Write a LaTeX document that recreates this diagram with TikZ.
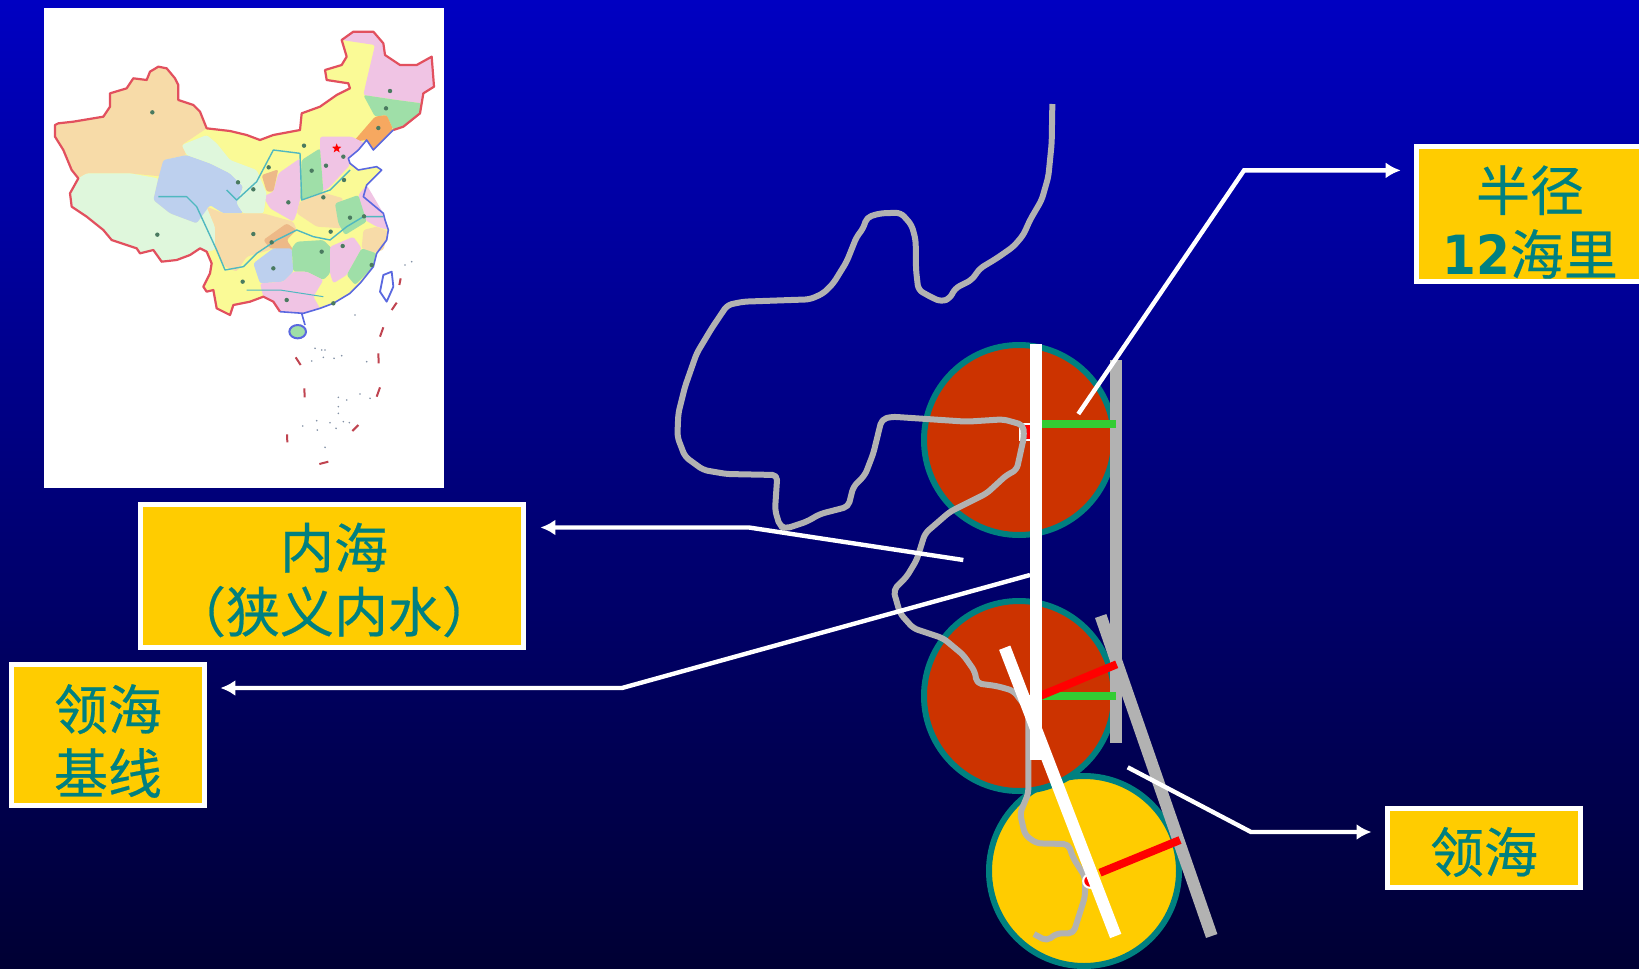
\documentclass[tikz,border=0pt]{standalone}
\usepackage{fontspec}
\setmainfont[FakeBold=0.4]{Noto Sans CJK SC}
\newfontfamily\digfont[FakeStretch=0.9]{DejaVu Sans}
\usetikzlibrary{arrows.meta,shapes.geometric}
\definecolor{bgtop}{HTML}{0000C2}
\definecolor{bgmid}{HTML}{00008E}
\definecolor{bgbot}{HTML}{000033}
\definecolor{boxyellow}{HTML}{FFCC00}
\definecolor{tealc}{HTML}{008080}
\definecolor{brick}{HTML}{CC3300}
\definecolor{coast}{HTML}{B2B2B2}
\definecolor{greenl}{HTML}{33CC33}
\definecolor{mTan}{HTML}{F7DBA8}
\definecolor{mPale}{HTML}{DFF7DC}
\definecolor{mBlue}{HTML}{BDD0EE}
\definecolor{mYel}{HTML}{FAFA96}
\definecolor{mPink}{HTML}{F0C4E4}
\definecolor{mGreen}{HTML}{9FDFA8}
\definecolor{mOrg}{HTML}{F6A860}
\definecolor{mBrn}{HTML}{EDB988}
\definecolor{mBorder}{HTML}{E2505E}
\definecolor{mCoast}{HTML}{5A68E0}
\definecolor{mRiver}{HTML}{50B8C0}
\definecolor{mDot}{HTML}{4A7A60}
\tikzset{
  labelbox/.style={fill=boxyellow,draw=white,line width=2.5pt,inner sep=0pt,outer sep=0pt},
  labeltext/.style={text=tealc,font=\fontsize{27}{32}\selectfont,align=center,inner sep=0pt},
  leader/.style={draw=white,line width=2.2pt,line join=miter},
  leadertip/.style={leader,-{Latex[length=7.5pt,width=8pt]}},
  bigcircle/.style={circle,draw=tealc,line width=3pt,minimum size=95pt,inner sep=0pt,outer sep=0pt},
  thickline/.style={line width=6pt},
  radiusline/.style={line width=4pt},
  coastline/.style={draw=coast,line width=3pt,line join=round,line cap=butt},
  prov/.style={rounded corners=1.2pt},
}
\begin{document}
\begin{tikzpicture}[x=0.5pt,y=-0.5pt]
\useasboundingbox (0,0) rectangle (1639,969);
\shade[top color=bgtop,middle color=bgmid,bottom color=bgbot] (0,0) rectangle (1639,969);

% ---------- map ----------
\fill[white] (44,8) rectangle (444,488);
\begin{scope}[shift={(15pt,0pt)},x=0.16667pt,y=-0.16667pt,line join=round]
% country base
\fill[mYel] (1090,390)--(1120,380)--(1145,360)--(1170,340)--(1180,280)--(1212,260)--(1205,170)--(1160,195)--(1110,195)--(1065,165)--(1060,130)--(1030,95)--(970,95)--(935,120)--(950,170)--(935,195)--(885,210)--(890,240)--(955,250)--(960,265)--(920,285)--(870,320)--(815,340)--(810,390)--(730,405)--(690,420)--(650,405)--(600,393)--(530,385)--(510,335)--(490,315)--(445,300)--(445,255)--(435,235)--(410,205)--(385,200)--(360,215)--(350,240)--(310,235)--(290,265)--(240,280)--(240,320)--(220,350)--(160,360)--(130,365)--(85,370)--(75,375)--(75,410)--(100,450)--(125,510)--(145,535)--(120,580)--(125,620)--(170,650)--(220,690)--(245,720)--(320,745)--(330,760)--(370,750)--(395,785)--(440,780)--(480,765)--(510,745)--(530,755)--(545,790)--(540,820)--(520,860)--(530,875)--(550,870)--(560,925)--(600,945)--(610,915)--(660,905)--(700,890)--(730,905)--(750,935)--(820,940)--(870,925)--(910,910)--(960,880)--(990,850)--(1030,800)--(1040,760)--(1070,720)--(1075,690)--(1065,660)--(1060,640)--(1000,590)--(1010,555)--(1055,510)--(1040,500)--(985,510)--(960,490)--(955,475)--(985,450)--(1010,420)--(1030,450)--cycle;
\fill[mTan,prov] (75,375)--(85,370)--(130,365)--(160,360)--(220,350)--(240,320)--(240,280)--(290,265)--(310,235)--(350,240)--(360,215)--(385,200)--(410,205)--(435,235)--(445,255)--(445,300)--(490,315)--(510,335)--(530,385)--(455,435)--(470,465)--(400,480)--(400,530)--(300,520)--(170,520)--(145,535)--(125,510)--(100,450)--(75,410)--cycle;
\fill[mPale,prov] (170,520)--(300,520)--(385,535)--(370,600)--(420,640)--(500,670)--(530,620)--(555,680)--(555,750)--(530,755)--(510,745)--(480,765)--(440,780)--(395,785)--(370,750)--(330,760)--(320,745)--(245,720)--(220,690)--(170,650)--(125,620)--(120,580)--(145,535)--cycle;
\fill[mBlue,prov] (400,480)--(470,465)--(540,490)--(600,520)--(640,560)--(620,610)--(640,640)--(580,640)--(540,615)--(500,670)--(420,640)--(370,600)--(385,535)--cycle;
\fill[mPale,prov] (455,435)--(530,405)--(560,430)--(600,480)--(680,510)--(710,580)--(700,640)--(640,640)--(620,610)--(640,560)--(600,520)--(540,490)--(470,465)--cycle;
\fill[mPink,prov] (935,120)--(970,95)--(1030,95)--(1060,130)--(1065,165)--(1110,195)--(1160,195)--(1205,170)--(1212,260)--(1180,280)--(1175,310)--(1100,300)--(1000,285)--(1010,240)--(1035,135)--cycle;
\fill[mGreen,prov] (1000,285)--(1100,300)--(1175,310)--(1170,340)--(1145,360)--(1120,380)--(1090,390)--(1070,345)--(1035,350)--cycle;
\fill[mOrg,prov] (1035,350)--(1070,345)--(1090,390)--(1030,450)--(1010,420)--(970,425)--cycle;
\fill[mPink,prov] (870,410)--(965,410)--(1005,430)--(955,475)--(960,495)--(900,560)--(880,575)--(870,450)--cycle;
\fill[mGreen,prov] (815,480)--(870,445)--(880,575)--(810,600)--cycle;
\fill[mPink,prov] (745,520)--(810,475)--(810,600)--(800,640)--(790,665)--(720,625)--(700,590)--(730,575)--cycle;
\fill[mBrn,prov] (695,525)--(745,508)--(730,575)--(710,575)--cycle;
\fill[mPale,prov] (640,560)--(710,580)--(700,640)--(640,640)--(620,610)--cycle;
\fill[mTan,prov] (800,640)--(810,605)--(880,578)--(940,595)--(920,640)--(935,685)--(860,680)--cycle;
\fill[mPink,prov] (985,585)--(1010,555)--(1060,640)--(1065,660)--(1075,690)--(1040,680)--(1005,660)--cycle;
\fill[mGreen,prov] (915,610)--(985,585)--(1010,665)--(945,705)--(925,670)--cycle;
\fill[mTan,prov] (1000,690)--(1040,680)--(1075,695)--(1060,750)--(1020,760)--(995,745)--cycle;
\fill[mTan,prov] (530,620)--(580,640)--(700,640)--(790,665)--(800,690)--(750,720)--(720,750)--(650,770)--(620,815)--(585,800)--(555,750)--(555,680)--cycle;
\fill[mBrn,prov] (700,720)--(770,670)--(800,690)--(770,720)--(790,750)--(720,745)--cycle;
\fill[mBlue,prov] (670,790)--(730,745)--(785,745)--(790,815)--(760,845)--(690,850)--cycle;
\fill[mGreen,prov] (785,745)--(800,725)--(880,720)--(905,745)--(900,820)--(880,840)--(830,815)--(790,815)--cycle;
\fill[mPink,prov] (900,740)--(970,710)--(995,745)--(950,825)--(910,850)--(900,820)--cycle;
\fill[mGreen,prov] (995,745)--(1040,760)--(1030,800)--(975,855)--(950,825)--cycle;
\fill[mPink,prov] (690,850)--(760,845)--(790,815)--(830,815)--(880,840)--(850,890)--(870,925)--(820,940)--(750,935)--(730,905)--(700,890)--cycle;
% rivers
\draw[mRiver,line width=0.7pt] (590,570)--(620,600)--(680,545)--(730,450)--(810,460)--(815,600)--(900,570)--(960,510);
\draw[mRiver,line width=0.7pt] (385,590)--(470,590)--(500,620)--(560,750)--(585,810)--(640,800)--(680,760)--(740,720)--(800,690)--(850,710)--(900,720)--(950,680)--(1000,650)--(1060,650);
\draw[mRiver,line width=0.5pt] (650,870)--(750,870)--(880,890);
% borders
\draw[mBorder,line width=1.1pt] (1090,390)--(1120,380)--(1145,360)--(1170,340)--(1180,280)--(1212,260)--(1205,170)--(1160,195)--(1110,195)--(1065,165)--(1060,130)--(1030,95)--(970,95)--(935,120)--(950,170)--(935,195)--(885,210)--(890,240)--(955,250)--(960,265)--(920,285)--(870,320)--(815,340)--(810,390)--(730,405)--(690,420)--(650,405)--(600,393)--(530,385)--(510,335)--(490,315)--(445,300)--(445,255)--(435,235)--(410,205)--(385,200)--(360,215)--(350,240)--(310,235)--(290,265)--(240,280)--(240,320)--(220,350)--(160,360)--(130,365)--(85,370)--(75,375)--(75,410)--(100,450)--(125,510)--(145,535)--(120,580)--(125,620)--(170,650)--(220,690)--(245,720)--(320,745)--(330,760)--(370,750)--(395,785)--(440,780)--(480,765)--(510,745)--(530,755)--(545,790)--(540,820)--(520,860)--(530,875)--(550,870)--(560,925)--(600,945)--(610,915)--(660,905)--(700,890)--(730,905)--(750,935);
\draw[mCoast,line width=0.8pt] (1090,390)--(1030,450)--(1010,420)--(985,450)--(955,475)--(960,490)--(985,510)--(1040,500)--(1055,510)--(1010,555)--(1000,590)--(1060,640)--(1065,660)--(1075,690)--(1070,720)--(1040,760)--(1030,800)--(990,850)--(960,880)--(910,910)--(870,925)--(820,940)--(750,935);
% Hainan, Taiwan
\draw[mCoast,fill=mGreen,line width=1pt] (803,995) ellipse [x radius=25,y radius=20];
\draw[mCoast,line width=0.8pt] (815,940)--(825,975);
\draw[mCoast,fill=white,line width=0.9pt] (1050,875)--(1060,825)--(1085,815)--(1090,860)--(1070,905)--cycle;
% capitals
\foreach \p in {(367,337),(382,704),(624,547),(670,568),(716,502),(822,437),(845,512),(888,497),(940,470),(942,540),(880,592),(775,607),(960,653),(1002,649),(902,695),(938,738),(875,755),(730,805),(638,845),(770,900),(725,727),(670,702),(1080,273),(1068,325),(1045,384),(1025,795),(910,910)}
  \fill[mDot] \p circle (1.1pt);
\node[star,star points=5,star point ratio=2.4,fill=red,inner sep=0pt,minimum size=5pt] (capital) at (920,445) {};
% island dashes
\foreach \a/\b in {{(1112,835)}/{(1108,855)},{(1100,908)}/{(1085,930)},{(1060,982)}/{(1050,1010)},{(1045,1060)}/{(1046,1090)},{(1050,1162)}/{(1040,1190)},{(985,1275)}/{(967,1293)},{(895,1385)}/{(868,1392)},{(771,1303)}/{(772,1327)},{(823,1165)}/{(824,1192)},{(797,1072)}/{(812,1095)}}
  \draw[mBorder!85!black,line width=1pt] \a -- \b;
\foreach \p in {(855,1045),(875,1050),(885,1050),(845,1083),(880,1072),(912,1075),(935,1067),(1010,1085),(925,1192),(950,1200),(990,1182),(1020,1195),(925,1220),(925,1240),(860,1262),(900,1268),(940,1265),(958,1268),(818,1278),(862,1290),(918,1285),(885,1342),(975,945),(1125,795),(1145,785)}
  \fill[mBlue!70!black] \p circle (0.45pt);
\end{scope}

% ---------- circles ----------
\node[bigcircle,fill=boxyellow] (c3) at (1084,871) {};
\node[bigcircle,fill=brick] (c1) at (1019,440) {};
\node[bigcircle,fill=brick] (c2) at (1019,696) {};

% ---------- outer limits ----------
\coordinate (limA) at (1116,360);
\coordinate (limB) at (1116,743);
\coordinate (limC) at (1100.7,616);
\coordinate (limD) at (1211.7,936);
\draw[coast,thickline] (limC) -- (limD);
\draw[coast,thickline] (limA) -- (limB);

% ---------- base points and radii ----------
\draw[draw=white,fill=red,line width=1pt] (1020,424) rectangle (1031,440);
\fill[white] (1022,695) rectangle (1032,708);
\coordinate (rA) at (1042,423.7);
\coordinate (rAe) at (1116,423.7);
\coordinate (rB) at (1042,696);
\coordinate (rBe) at (1116,696);
\coordinate (rC) at (1040,696);
\coordinate (rCe) at (1116.7,664.3);
\coordinate (rD) at (1100,872.7);
\coordinate (rDe) at (1180,840);
\draw[greenl,radiusline] (rB) -- (rBe);
\draw[red,radiusline] (rC) -- (rCe);
\draw[greenl,radiusline] (rA) -- (rAe);
\draw[red,radiusline] (rD) -- (rDe);

% ---------- coastline ----------
\begin{scope}[shift={(325pt,-45pt)},x=0.16667pt,y=-0.16667pt]
\draw[coastline,rounded corners=2.5pt] (1207,42)--(1205,160)--(1195,260)--(1175,330)--(1140,390)--(1120,435)--(1090,470)--(1040,505)--(990,535)--(965,570)--(915,595)--(900,625)--(875,635)--(850,625)--(805,600)--(798,540)--(797,450)--(785,405)--(752,368)--(690,370)--(650,382)--(640,415)--(620,440)--(590,515)--(550,580)--(520,610)--(480,628)--(280,635)--(232,645)--(185,715)--(140,790)--(105,890)--(85,970)--(82,1040)--(105,1100)--(160,1140)--(230,1152)--(382,1155)--(375,1260)--(390,1310)--(410,1315)--(470,1295)--(510,1272)--(595,1250)--(610,1190)--(645,1155)--(670,1090)--(695,988)--(725,980)--(950,995)--(1060,988)--(1120,1005)--(1122,1040)--(1100,1140)--(1070,1155)--(1010,1210)--(900,1265)--(825,1330)--(800,1410)--(770,1460)--(730,1500)--(750,1570)--(790,1615)--(880,1645)--(940,1695)--(975,1745)--(980,1780)--(1040,1788)--(1090,1802)--(1135,1860)--(1135,2110)--(1110,2170)--(1125,2235)--(1160,2260)--(1255,2262)--(1270,2305)--(1305,2360)--(1305,2420)--(1270,2530)--(1220,2530)--(1190,2553)--(1152,2532);
\end{scope}
\draw[draw=white,fill=red,line width=1pt] (1090,881) circle (3.4pt);

% ---------- baselines ----------
\coordinate (baseA) at (1036,344);
\coordinate (baseB) at (1036,760);
\coordinate (baseC) at (1004.7,647.7);
\coordinate (baseD) at (1115.7,936);
\draw[white,thickline] (baseA) -- (baseB);
\draw[white,thickline] (baseC) -- (baseD);

% ---------- label boxes ----------
\node[labelbox,minimum width=191.5pt,minimum height=71.75pt] (nei) at (332,575.75) {};
\node[labelbox,minimum width=96.25pt,minimum height=70.75pt] (ji) at (107.75,734.75) {};
\node[labelbox,minimum width=114.25pt,minimum height=67.5pt] (ban) at (1530.75,214) {};
\node[labelbox,minimum width=96.25pt,minimum height=39.25pt] (ling) at (1483.75,847.75) {};
\node[labeltext] (neiT) at (334,580) {内海\\（狭义内水）};
\node[labeltext] (jiT) at (108,741) {领海\\基线};
\node[labeltext] (banT) at (1530,222) {半径\\{\digfont\bfseries 12}海里};
\node[labeltext] (lingT) at (1484,852) {领海};

% ---------- leaders ----------
\coordinate (s1) at (1078.3,414);
\coordinate (k1) at (1244,170.4);
\coordinate (t1) at (1400.7,170.4);
\coordinate (s2) at (963.3,560);
\coordinate (k2) at (749,527.5);
\coordinate (t2) at (540.4,527.5);
\coordinate (s3) at (1030,575);
\coordinate (k3) at (622,688);
\coordinate (t3) at (220.4,688);
\coordinate (s4) at (1127.7,767.3);
\coordinate (k4) at (1251,832);
\coordinate (t4) at (1371.5,832);
\draw[leadertip] (s1) -- (k1) -- (t1);
\draw[leadertip] (s2) -- (k2) -- (t2);
\draw[leadertip] (s3) -- (k3) -- (t3);
\draw[leadertip] (s4) -- (k4) -- (t4);
\end{tikzpicture}
\end{document}
